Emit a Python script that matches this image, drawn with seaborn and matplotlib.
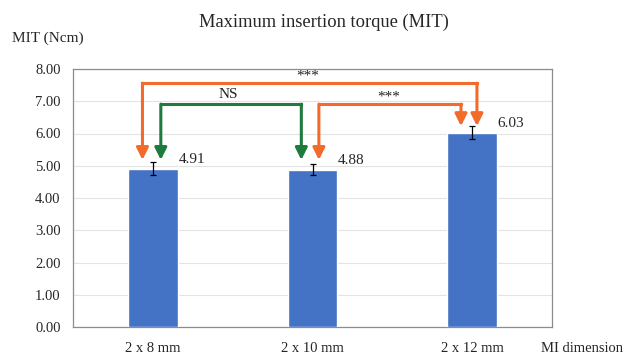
import matplotlib
matplotlib.use("Agg")
import matplotlib.pyplot as plt
import seaborn as sns
import pandas as pd
import numpy as np

categories = ["2 x 8 mm", "2 x 10 mm", "2 x 12 mm"]
mit_values = [4.91, 4.88, 6.03]
mit_err = [0.20, 0.18, 0.20]
y_ticks = [0, 1, 2, 3, 4, 5, 6, 7, 8]

sns.set_theme(style="white")
plt.rcParams["font.family"] = ["Liberation Serif", "DejaVu Serif"]

df = pd.DataFrame({"dim": categories, "mit": mit_values})

fig = plt.figure(figsize=(6.26, 3.58), dpi=100)
ax = fig.add_axes([73/626, 31/358, 479/626, 258/358])

sns.barplot(data=df, x="dim", y="mit", color="#4472C4", width=0.31,
            saturation=1, errorbar=None, ax=ax, zorder=3)
ax.errorbar(np.arange(len(categories)), mit_values, yerr=mit_err, fmt="none",
            ecolor="black", elinewidth=0.9, capsize=2.5, capthick=0.9, zorder=4)

ax.set_ylim(0, 8)
ax.set_xlim(-0.5, 2.5)
ax.set_yticks(y_ticks)
ax.set_yticklabels([f"{v:.2f}" for v in y_ticks], fontsize=10.5)
ax.tick_params(axis="x", labelsize=10.5, pad=11, length=0)
ax.tick_params(axis="y", pad=9, length=0)
ax.set_xlabel("")
ax.set_ylabel("")
ax.yaxis.grid(True, color="#E3E3E3", linewidth=0.8, zorder=0)
ax.set_axisbelow(True)
for s in ax.spines.values():
    s.set_color("#8C8C8C")
    s.set_linewidth(0.9)

# value labels
for i, v in enumerate(mit_values):
    ax.text(i + 0.16, v + 0.27, f"{v:.2f}", fontsize=11, ha="left", va="center")

orange = "#F26B2A"
green = "#1E7B3E"

def bracket(x1, x2, ytop, y1, y2, color, label, lx, ly, fs):
    ax.plot([x1, x2], [ytop, ytop], color=color, lw=2.2, solid_capstyle="projecting",
            zorder=5)
    for x, yb in ((x1, y1), (x2, y2)):
        ax.annotate("", xy=(x, yb), xytext=(x, ytop),
                    arrowprops=dict(arrowstyle="-|>,head_length=0.6,head_width=0.3",
                                    color=color, lw=2.2, shrinkA=0, shrinkB=0),
                    zorder=5)
    ax.text(lx, ly, label, fontsize=fs, ha="center", va="center", color="#222222")

bracket(-0.065, 2.03, 7.56, 5.18, 6.23, orange, "***", 0.97, 7.78, 11)
bracket(0.05, 0.93, 6.91, 5.18, 5.18, green, "NS", 0.47, 7.22, 11)
bracket(1.04, 1.93, 6.91, 5.18, 6.23, orange, "***", 1.48, 7.12, 11)

fig.text(324/626, 1 - 22/358, "Maximum insertion torque (MIT)", fontsize=13.3,
         ha="center", va="center")
fig.text(12/626, 1 - 38/358, "MIT (Ncm)", fontsize=11, ha="left", va="center")
fig.text(541/626, 1 - 349/358, "MI dimension", fontsize=10.5, ha="left", va="center")

fig.savefig("out.png", dpi=100)
